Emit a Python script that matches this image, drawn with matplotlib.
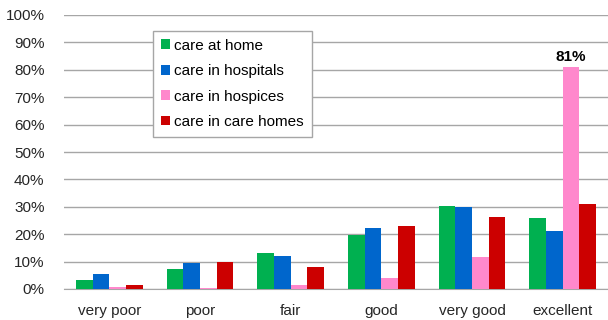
import numpy as np
from matplotlib import pyplot as plt

plt.rcParams['font.family'] = ['Liberation Sans', 'DejaVu Sans']

categories = ['very poor', 'poor', 'fair', 'good', 'very good', 'excellent']
home = [3.3, 7.3, 13.0, 19.7, 30.4, 26.0]
hospitals = [5.4, 9.5, 11.9, 22.1, 30.0, 21.0]
hospices = [0.8, 0.3, 1.3, 4.1, 11.8, 81.0]
care_homes = [1.5, 9.9, 8.1, 23.0, 26.1, 31.2]

series = [
    ('care at home', home, '#00B050'),
    ('care in hospitals', hospitals, '#0066CC'),
    ('care in hospices', hospices, '#FF88CC'),
    ('care in care homes', care_homes, '#CC0000'),
]

fig = plt.figure(figsize=(6.08, 3.2), dpi=100)
ax = fig.add_axes([64 / 608, 31 / 320, 544 / 608, 274 / 320])

x = np.arange(len(categories))
w = 0.184
for i, (name, vals, col) in enumerate(series):
    ax.bar(x + (i - 1.5) * w, vals, w, color=col, label=name, zorder=3)

# label the biggest value
ax.text(x[5] + 0.5 * w, hospices[5] + 1, '81%', ha='center', va='bottom',
        fontsize=11, fontweight='bold')

ax.set_xlim(-0.5, len(categories) - 0.5)
ax.set_ylim(0, 100)
ax.set_yticks(range(0, 101, 10))
ax.set_yticklabels([f'{v}%' for v in range(0, 101, 10)], fontsize=11, color='#262626')
ax.set_xticks(x)
ax.set_xticklabels(categories, fontsize=11, color='#262626')
ax.tick_params(length=0)
ax.tick_params(axis='x', pad=11)
ax.tick_params(axis='y', pad=14)
ax.grid(axis='y', color='#A6A6A6', linewidth=1, zorder=0)
for s in ['top', 'right', 'left']:
    ax.spines[s].set_visible(False)
ax.spines['bottom'].set_color('#A6A6A6')

leg = ax.legend(loc='upper left', bbox_to_anchor=(89 / 544, 1 - 16 / 274), fontsize=11,
                handlelength=0.6, handleheight=0.6, handletextpad=0.3,
                fancybox=False, framealpha=1, edgecolor='#A6A6A6', labelspacing=0.75,
                borderpad=0.5, borderaxespad=0)
leg.get_frame().set_linewidth(1)

plt.savefig('out.png', dpi=100)
